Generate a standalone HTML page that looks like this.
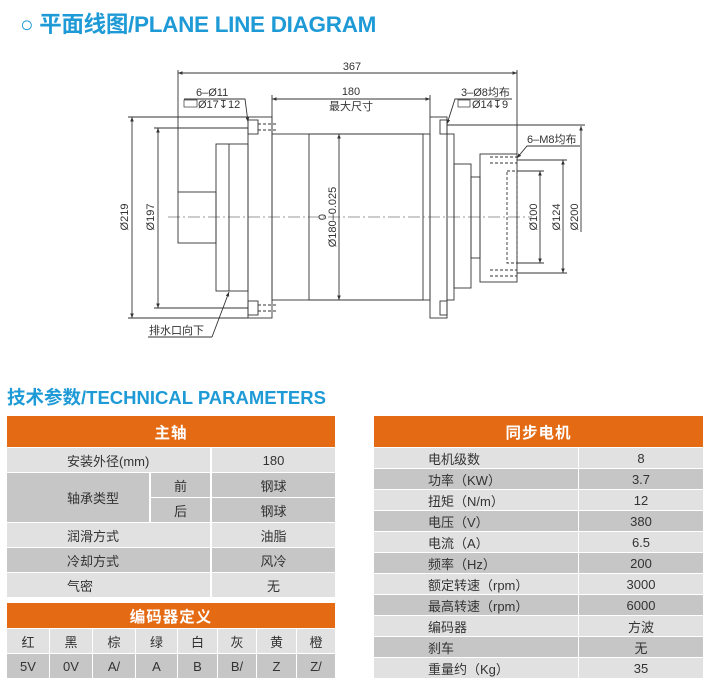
<!DOCTYPE html>
<html><head><meta charset="utf-8"><style>
body{margin:0;width:722px;height:690px;background:#fff;position:relative;overflow:hidden;font-family:"Liberation Sans","Noto Sans CJK SC",sans-serif;}
.t1{position:absolute;left:20px;top:7px;font-size:22.5px;font-weight:bold;color:#1e9ad6;letter-spacing:-0.3px;white-space:nowrap}
.t2{position:absolute;left:7px;top:384px;font-size:18.5px;font-weight:bold;color:#1e9ad6;white-space:nowrap}
.c{position:absolute;display:flex;align-items:center;justify-content:center;font-size:13px;color:#333;box-sizing:border-box}
.h{background:#e46a14;color:#fff;font-weight:bold;font-size:15.5px;letter-spacing:1px}
.l{background:#e1e1e1}.d{background:#c6c6c6}
.lf{justify-content:flex-start}
</style></head><body>
<div class="t1">○ 平面线图/PLANE LINE DIAGRAM</div>
<svg width="722" height="370" style="position:absolute;left:0;top:0" font-family="Liberation Sans,Noto Sans CJK SC,sans-serif" font-size="10" fill="none" stroke="#333" stroke-width="0.9">
<defs><marker id="a" markerWidth="6" markerHeight="6" refX="5" refY="3" orient="auto-start-reverse"><path d="M0,1 L5,3 L0,5z" fill="#333" stroke="none"/></marker></defs>
<line x1="168" y1="217" x2="532" y2="217" stroke-dasharray="12,3,2,3" stroke-width="0.6"/>
<rect x="178" y="192" width="38" height="51"/>
<line x1="178" y1="70" x2="178" y2="192"/>
<rect x="216" y="144" width="32" height="147"/>
<line x1="229" y1="144" x2="229" y2="291"/>
<rect x="248" y="117" width="24" height="201"/>
<rect x="248" y="120" width="10" height="14"/><rect x="248" y="301" width="10" height="14"/>
<line x1="258" y1="124" x2="278" y2="124" stroke-dasharray="3,2"/><line x1="258" y1="130" x2="278" y2="130" stroke-dasharray="3,2"/>
<line x1="258" y1="305" x2="278" y2="305" stroke-dasharray="3,2"/><line x1="258" y1="311" x2="278" y2="311" stroke-dasharray="3,2"/>
<rect x="272" y="134" width="158" height="166"/>
<rect x="309" y="134" width="114" height="166"/>
<rect x="430" y="117" width="17" height="201"/>
<rect x="440" y="120" width="7" height="14"/><rect x="440" y="301" width="7" height="14"/>
<rect x="447" y="134" width="7" height="166"/>
<rect x="454" y="164" width="17" height="124"/>
<rect x="471" y="177" width="9" height="81"/>
<rect x="480" y="154" width="37" height="128"/>
<rect x="507" y="171" width="10" height="92" stroke-dasharray="3,2"/>
<line x1="490" y1="157" x2="517" y2="157" stroke-dasharray="3,2"/><line x1="490" y1="163" x2="517" y2="163" stroke-dasharray="3,2"/>
<line x1="490" y1="270" x2="517" y2="270" stroke-dasharray="3,2"/><line x1="490" y1="276" x2="517" y2="276" stroke-dasharray="3,2"/>
<line x1="517" y1="70" x2="517" y2="154"/>
<line x1="178" y1="73" x2="517" y2="73" marker-start="url(#a)" marker-end="url(#a)"/>
<line x1="272" y1="99" x2="430" y2="99" marker-start="url(#a)" marker-end="url(#a)"/>
<line x1="272" y1="95" x2="272" y2="134"/><line x1="430" y1="95" x2="430" y2="117"/>
<line x1="339" y1="134" x2="339" y2="300" marker-start="url(#a)" marker-end="url(#a)"/>
<line x1="132" y1="117" x2="132" y2="318" marker-start="url(#a)" marker-end="url(#a)"/>
<line x1="128" y1="117" x2="248" y2="117"/><line x1="128" y1="318" x2="248" y2="318"/>
<line x1="158" y1="128" x2="158" y2="308" marker-start="url(#a)" marker-end="url(#a)"/>
<line x1="154" y1="128" x2="248" y2="128"/><line x1="154" y1="308" x2="248" y2="308"/>
<line x1="540" y1="171" x2="540" y2="263" marker-start="url(#a)" marker-end="url(#a)"/>
<line x1="517" y1="171" x2="544" y2="171"/><line x1="517" y1="263" x2="544" y2="263"/>
<line x1="563" y1="160" x2="563" y2="273" marker-start="url(#a)" marker-end="url(#a)"/>
<line x1="517" y1="160" x2="567" y2="160"/><line x1="517" y1="273" x2="567" y2="273"/>
<line x1="581" y1="126" x2="581" y2="232" marker-start="url(#a)"/>
<line x1="447" y1="125" x2="585" y2="125"/>
<polyline points="184,99 245,99 248,122" marker-end="url(#a)"/>
<polyline points="212,337 148,337"/><line x1="212" y1="337" x2="229" y2="292" marker-end="url(#a)"/>
<polyline points="512,99 455,99 447,124" marker-end="url(#a)"/>
<polyline points="580,146 527,146 517,158" marker-end="url(#a)"/>
<rect x="184" y="100" width="13" height="7" stroke-width="0.7"/>
<rect x="458" y="100" width="12" height="7" stroke-width="0.7"/>
<g fill="#333" stroke="none" font-size="11">
<text x="352" y="70" text-anchor="middle">367</text>
<text x="351" y="95" text-anchor="middle">180</text>
<text x="351" y="110" text-anchor="middle">最大尺寸</text>
<text x="196" y="96">6–Ø11</text>
<text x="198" y="108">Ø17↧12</text>
<text x="461" y="96">3–Ø8均布</text>
<text x="472" y="108">Ø14↧9</text>
<text x="527" y="143">6–M8均布</text>
<text x="149" y="334">排水口向下</text>
<text transform="translate(128,217) rotate(-90)" text-anchor="middle">Ø219</text>
<text transform="translate(154,217) rotate(-90)" text-anchor="middle">Ø197</text>
<text transform="translate(326,217) rotate(-90)" text-anchor="middle">0</text>
<text transform="translate(336,217) rotate(-90)" text-anchor="middle">Ø180–0.025</text>
<text transform="translate(537,217) rotate(-90)" text-anchor="middle">Ø100</text>
<text transform="translate(560,217) rotate(-90)" text-anchor="middle">Ø124</text>
<text transform="translate(578,217) rotate(-90)" text-anchor="middle">Ø200</text>
</g>
</svg>
<div class="t2">技术参数/TECHNICAL PARAMETERS</div>
<div class="c h" style="left:7px;top:416px;width:328px;height:31px">主轴</div>
<div class="c l lf" style="left:7px;top:448px;width:203px;height:24px;padding-left:60px">安装外径(mm)</div>
<div class="c l" style="left:212px;top:448px;width:123px;height:24px">180</div>
<div class="c d lf" style="left:7px;top:473px;width:142px;height:49px;padding-left:60px">轴承类型</div>
<div class="c d" style="left:151px;top:473px;width:59px;height:24px">前</div>
<div class="c d" style="left:212px;top:473px;width:123px;height:24px">钢球</div>
<div class="c d" style="left:151px;top:498px;width:59px;height:24px">后</div>
<div class="c d" style="left:212px;top:498px;width:123px;height:24px">钢球</div>
<div class="c l lf" style="left:7px;top:523px;width:203px;height:24px;padding-left:60px">润滑方式</div>
<div class="c l" style="left:212px;top:523px;width:123px;height:24px">油脂</div>
<div class="c d lf" style="left:7px;top:548px;width:203px;height:24px;padding-left:60px">冷却方式</div>
<div class="c d" style="left:212px;top:548px;width:123px;height:24px">风冷</div>
<div class="c l lf" style="left:7px;top:573px;width:203px;height:24px;padding-left:60px">气密</div>
<div class="c l" style="left:212px;top:573px;width:123px;height:24px">无</div>
<div class="c h" style="left:7px;top:603px;width:328px;height:25px">编码器定义</div>
<div class="c l" style="left:7px;top:629px;width:42px;height:24px">红</div>
<div class="c l" style="left:50px;top:629px;width:42px;height:24px">黑</div>
<div class="c l" style="left:93px;top:629px;width:42px;height:24px">棕</div>
<div class="c l" style="left:136px;top:629px;width:41px;height:24px">绿</div>
<div class="c l" style="left:178px;top:629px;width:39px;height:24px">白</div>
<div class="c l" style="left:218px;top:629px;width:38px;height:24px">灰</div>
<div class="c l" style="left:257px;top:629px;width:39px;height:24px">黄</div>
<div class="c l" style="left:297px;top:629px;width:38px;height:24px">橙</div>
<div class="c d" style="left:7px;top:654px;width:42px;height:24px">5V</div>
<div class="c d" style="left:50px;top:654px;width:42px;height:24px">0V</div>
<div class="c d" style="left:93px;top:654px;width:42px;height:24px">A/</div>
<div class="c d" style="left:136px;top:654px;width:41px;height:24px">A</div>
<div class="c d" style="left:178px;top:654px;width:39px;height:24px">B</div>
<div class="c d" style="left:218px;top:654px;width:38px;height:24px">B/</div>
<div class="c d" style="left:257px;top:654px;width:39px;height:24px">Z</div>
<div class="c d" style="left:297px;top:654px;width:38px;height:24px">Z/</div>
<div class="c h" style="left:374px;top:416px;width:329px;height:31px">同步电机</div>
<div class="c l lf" style="left:374px;top:448px;width:204px;height:20px;padding-left:54px">电机级数</div><div class="c l" style="left:579px;top:448px;width:124px;height:20px">8</div>
<div class="c d lf" style="left:374px;top:469px;width:204px;height:20px;padding-left:54px">功率（KW）</div><div class="c d" style="left:579px;top:469px;width:124px;height:20px">3.7</div>
<div class="c l lf" style="left:374px;top:490px;width:204px;height:20px;padding-left:54px">扭矩（N/m）</div><div class="c l" style="left:579px;top:490px;width:124px;height:20px">12</div>
<div class="c d lf" style="left:374px;top:511px;width:204px;height:20px;padding-left:54px">电压（V）</div><div class="c d" style="left:579px;top:511px;width:124px;height:20px">380</div>
<div class="c l lf" style="left:374px;top:532px;width:204px;height:20px;padding-left:54px">电流（A）</div><div class="c l" style="left:579px;top:532px;width:124px;height:20px">6.5</div>
<div class="c d lf" style="left:374px;top:553px;width:204px;height:20px;padding-left:54px">频率（Hz）</div><div class="c d" style="left:579px;top:553px;width:124px;height:20px">200</div>
<div class="c l lf" style="left:374px;top:574px;width:204px;height:20px;padding-left:54px">额定转速（rpm）</div><div class="c l" style="left:579px;top:574px;width:124px;height:20px">3000</div>
<div class="c d lf" style="left:374px;top:595px;width:204px;height:20px;padding-left:54px">最高转速（rpm）</div><div class="c d" style="left:579px;top:595px;width:124px;height:20px">6000</div>
<div class="c l lf" style="left:374px;top:616px;width:204px;height:20px;padding-left:54px">编码器</div><div class="c l" style="left:579px;top:616px;width:124px;height:20px">方波</div>
<div class="c d lf" style="left:374px;top:637px;width:204px;height:20px;padding-left:54px">刹车</div><div class="c d" style="left:579px;top:637px;width:124px;height:20px">无</div>
<div class="c l lf" style="left:374px;top:658px;width:204px;height:20px;padding-left:54px">重量约（Kg）</div><div class="c l" style="left:579px;top:658px;width:124px;height:20px">35</div>
</body></html>
